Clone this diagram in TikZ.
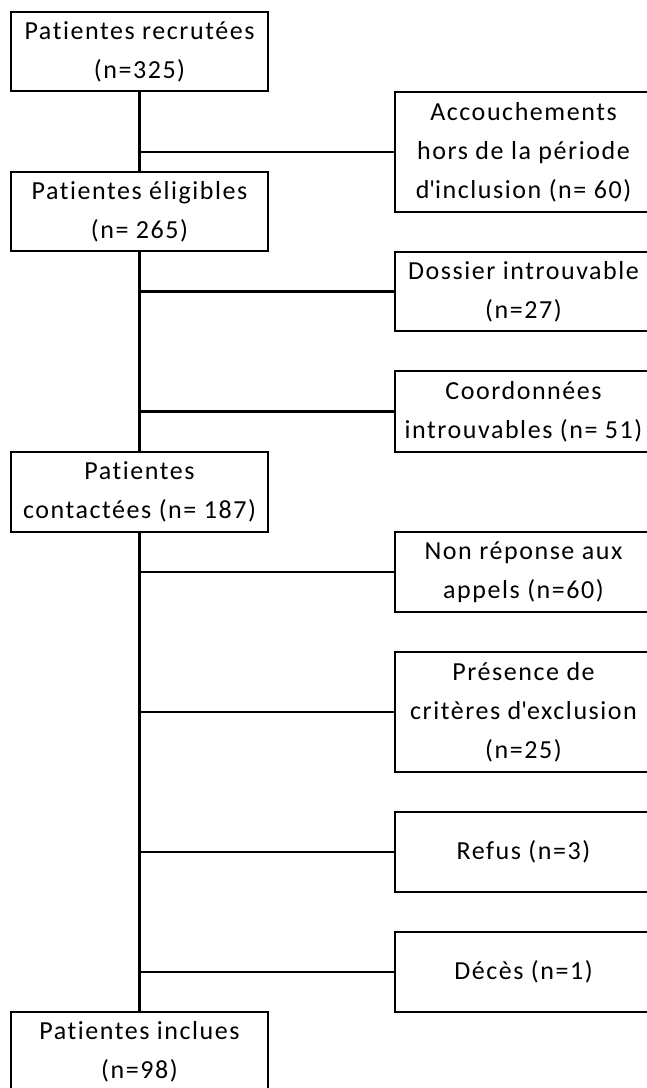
\documentclass[tikz,border=0pt]{standalone}
\usepackage{fontspec}
\setmainfont{Carlito}[Ligatures={NoCommon}, LetterSpace=6]
\begin{document}
\begin{tikzpicture}[x=1pt,y=-1pt,
  box/.style={draw=black, line width=2.8pt, rectangle, minimum width=257pt, inner sep=0pt,
    align=center, font=\fontsize{26}{39}\selectfont},
  link/.style={draw=black, line width=2.8pt}]
\useasboundingbox (0,0) rectangle (646,1088);
\node[box, minimum height=79pt] (L1) at (139.5,51.5) {Patientes recrutées\\(n=325)};
\node[box, minimum height=79pt] (L2) at (139.5,211.5) {Patientes éligibles\\(n= 265)};
\node[box, minimum height=80pt] (L3) at (139.5,492) {Patientes\\contactées (n= 187)};
\node[box, minimum height=80pt] (L4) at (139.5,1052) {Patientes inclues\\(n=98)};
\node[box, minimum height=120pt] (R1) at (523.5,152) {Accouchements\\hors de la période\\d\textquotesingle inclusion (n= 60)};
\node[box, minimum height=79pt] (R2) at (523.5,291.5) {Dossier introuvable\\(n=27)};
\node[box, minimum height=81pt] (R3) at (523.5,411.5) {Coordonnées\\introuvables (n= 51)};
\node[box, minimum height=80pt] (R4) at (523.5,572) {Non réponse aux\\appels (n=60)};
\node[box, minimum height=120pt] (R5) at (523.5,712) {Présence de\\critères d\textquotesingle exclusion\\(n=25)};
\node[box, minimum height=80pt] (R6) at (523.5,852) {Refus (n=3)};
\node[box, minimum height=80pt] (R7) at (523.5,972) {Décès (n=1)};
\draw[link] (L1.south) -- (L2.north);
\draw[link] (L2.south) -- (L3.north);
\draw[link] (L3.south) -- (L4.north);
\draw[link] (L1.south |- R1.west) -- (R1.west);
\draw[link] (L2.south |- R2.west) -- (R2.west);
\draw[link] (L2.south |- R3.west) -- (R3.west);
\draw[link] (L3.south |- R4.west) -- (R4.west);
\draw[link] (L3.south |- R5.west) -- (R5.west);
\draw[link] (L3.south |- R6.west) -- (R6.west);
\draw[link] (L3.south |- R7.west) -- (R7.west);
\end{tikzpicture}
\end{document}
